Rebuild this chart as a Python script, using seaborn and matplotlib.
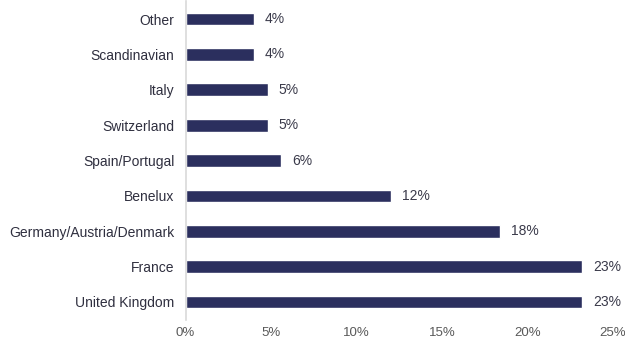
import matplotlib.pyplot as plt
import seaborn as sns
import pandas as pd

categories = ['Other', 'Scandinavian', 'Italy', 'Switzerland', 'Spain/Portugal',
              'Benelux', 'Germany/Austria/Denmark', 'France', 'United Kingdom']
shares = [4.0, 4.0, 4.8, 4.8, 5.6, 12.0, 18.4, 23.2, 23.2]
share_labels = ['4%', '4%', '5%', '5%', '6%', '12%', '18%', '23%', '23%']
x_ticks = [0, 5, 10, 15, 20, 25]

data = pd.DataFrame({'region': categories, 'share': shares})

sns.set_style('white')
plt.rcParams['font.family'] = ['Liberation Sans', 'DejaVu Sans']

fig = plt.figure(figsize=(6.25, 3.41), dpi=100)
ax = fig.add_axes([0.2968, 0.0627, 0.684, 0.9332])

sns.barplot(data=data, x='share', y='region', orient='h', color='#2b2f5e',
            width=0.36, saturation=1, ax=ax)

# value labels right of the bars
ax.bar_label(ax.containers[0], labels=share_labels, padding=8,
             fontsize=10, color='#3a3a4a')

ax.set_xlim(0, 25)
ax.set_ylim(8.5, -0.5)
ax.set_xticks(x_ticks)
ax.set_xticklabels([f'{t}%' for t in x_ticks], fontsize=9.5, color='#595959')
ax.tick_params(axis='x', length=0, pad=5)
ax.tick_params(axis='y', length=0, pad=8, labelsize=10, labelcolor='#2f2f3f')
ax.set_xlabel('')
ax.set_ylabel('')

for side in ['top', 'right', 'bottom']:
    ax.spines[side].set_visible(False)
ax.spines['left'].set_color('#d9d9d9')
ax.spines['left'].set_linewidth(1.2)

fig.savefig('out.png', dpi=100)
